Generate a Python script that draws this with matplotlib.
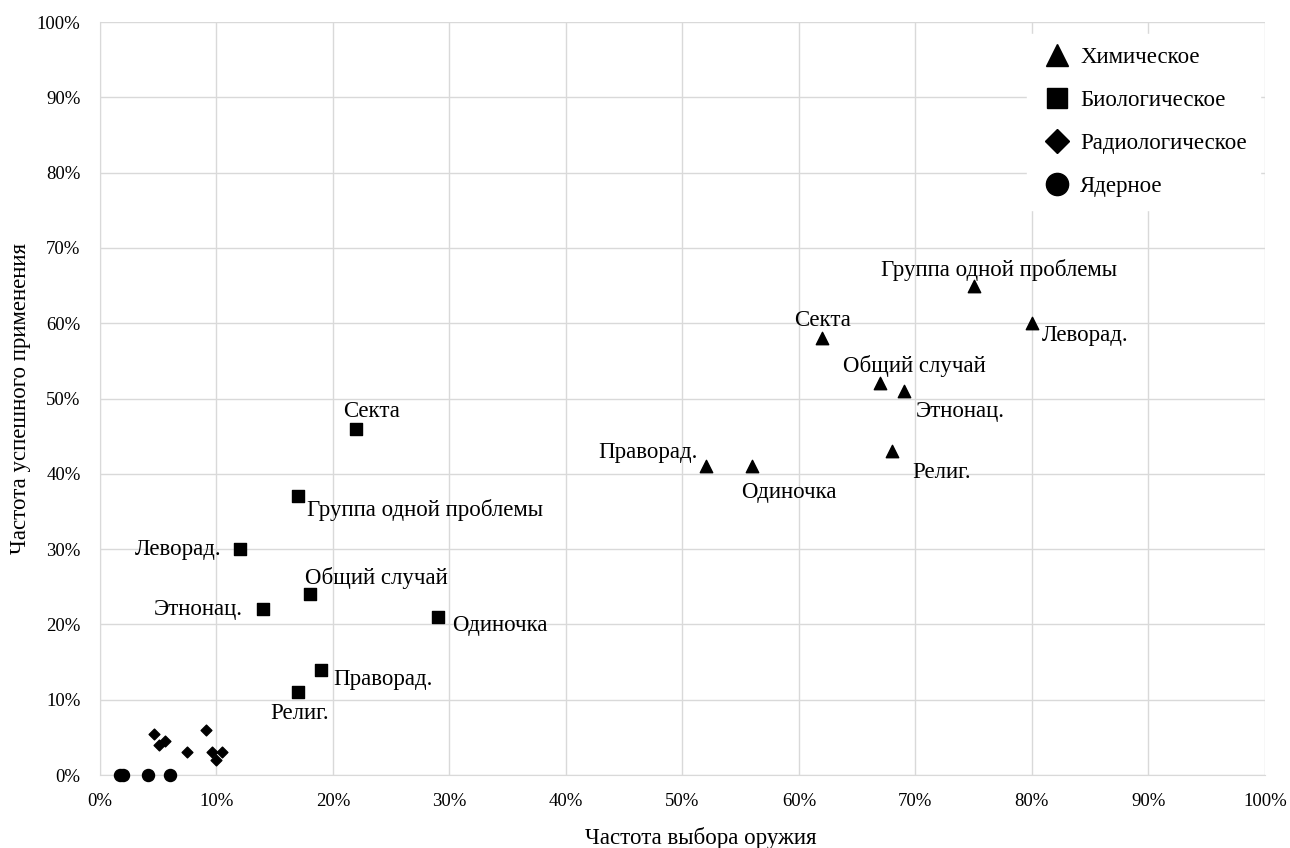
import matplotlib
matplotlib.use('Agg')
import matplotlib.pyplot as plt
from matplotlib.lines import Line2D
from matplotlib.ticker import PercentFormatter

plt.rcParams['font.family'] = ['Liberation Serif', 'DejaVu Serif']

# Химическое
chem_x = [75, 80, 62, 67, 69, 68, 52, 56]
chem_y = [65, 60, 58, 52, 51, 43, 41, 41]
chem_names = ['Группа одной проблемы', 'Леворад.', 'Секта', 'Общий случай',
              'Этнонац.', 'Религ.', 'Праворад.', 'Одиночка']

# Биологическое
bio_x = [22, 17, 12, 18, 14, 29, 19, 17]
bio_y = [46, 37, 30, 24, 22, 21, 14, 11]
bio_names = ['Секта', 'Группа одной проблемы', 'Леворад.', 'Общий случай',
             'Этнонац.', 'Одиночка', 'Праворад.', 'Религ.']

# Радиологическое
rad_x = [4.6, 5.1, 5.6, 7.5, 9.1, 9.6, 10.5, 10.0]
rad_y = [5.5, 4.0, 4.5, 3.0, 6.0, 3.0, 3.0, 2.0]

# Ядерное
nuc_x = [1.7, 2.0, 4.1, 6.0]
nuc_y = [0, 0, 0, 0]

series_names = ['Химическое', 'Биологическое', 'Радиологическое', 'Ядерное']

# label placement (pixel offsets, alignment)
chem_pos = [(25, 16, 'center'), (10, -12, 'left'), (0, 18, 'center'),
            (34, 17, 'center'), (12, -20, 'left'), (20, -21, 'left'),
            (-8, 14, 'right'), (37, -26, 'center')]
bio_pos = [(15, 17, 'center'), (9, -14, 'left'), (-18, 0, 'right'),
           (-5, 16, 'left'), (-20, 0, 'right'), (14, -9, 'left'),
           (12, -10, 'left'), (2, -21, 'center')]

FS = 16.5

fig = plt.figure(figsize=(12.9, 8.48), dpi=100)
ax = fig.add_axes([0.0775, 0.086, 0.903, 0.888])

ax.scatter(chem_x, chem_y, marker='^', s=80, color='black', zorder=3)
ax.scatter(bio_x, bio_y, marker='s', s=70, color='black', zorder=3)
ax.scatter(rad_x, rad_y, marker='D', s=30, color='black', zorder=3)
ax.scatter(nuc_x, nuc_y, marker='o', s=75, color='black', zorder=3, clip_on=False)

for x, y, name, (dx, dy, ha) in zip(chem_x, chem_y, chem_names, chem_pos):
    ax.annotate(name, (x, y), xytext=(dx, dy), textcoords='offset pixels',
                ha=ha, va='center', fontsize=FS)
for x, y, name, (dx, dy, ha) in zip(bio_x, bio_y, bio_names, bio_pos):
    ax.annotate(name, (x, y), xytext=(dx, dy), textcoords='offset pixels',
                ha=ha, va='center', fontsize=FS)

ax.set_xlim(0, 100)
ax.set_ylim(0, 100)
ax.set_xticks(range(0, 101, 10))
ax.set_yticks(range(0, 101, 10))
ax.xaxis.set_major_formatter(PercentFormatter(decimals=0))
ax.yaxis.set_major_formatter(PercentFormatter(decimals=0))
ax.tick_params(length=0, labelsize=13.5)
ax.tick_params(axis='x', pad=13)
ax.tick_params(axis='y', pad=14)
ax.grid(True, color='#d9d9d9', linewidth=1)
ax.set_axisbelow(True)
for side in ['top', 'right']:
    ax.spines[side].set_visible(False)
for side in ['bottom', 'left']:
    ax.spines[side].set_color('#d9d9d9')

ax.set_xlabel('Частота выбора оружия', fontsize=FS, labelpad=12)
ax.xaxis.label.set_x(0.516)
ax.set_ylabel('Частота успешного применения', fontsize=FS, labelpad=4)

handles = [
    Line2D([], [], linestyle='none', marker='^', markersize=16, color='black'),
    Line2D([], [], linestyle='none', marker='s', markersize=14.5, color='black'),
    Line2D([], [], linestyle='none', marker='D', markersize=12, color='black'),
    Line2D([], [], linestyle='none', marker='o', markersize=16, color='black'),
]
leg = ax.legend(handles, series_names, loc='upper right', bbox_to_anchor=(1.006, 1.0),
                frameon=True, fontsize=FS, handletextpad=0.3, labelspacing=0.95,
                borderpad=0.6, handlelength=1.4)
leg.get_frame().set_edgecolor('white')
leg.get_frame().set_facecolor('white')
leg.get_frame().set_alpha(1)
leg.get_frame().set_boxstyle('square', pad=0)

fig.savefig('out.png', dpi=100)
